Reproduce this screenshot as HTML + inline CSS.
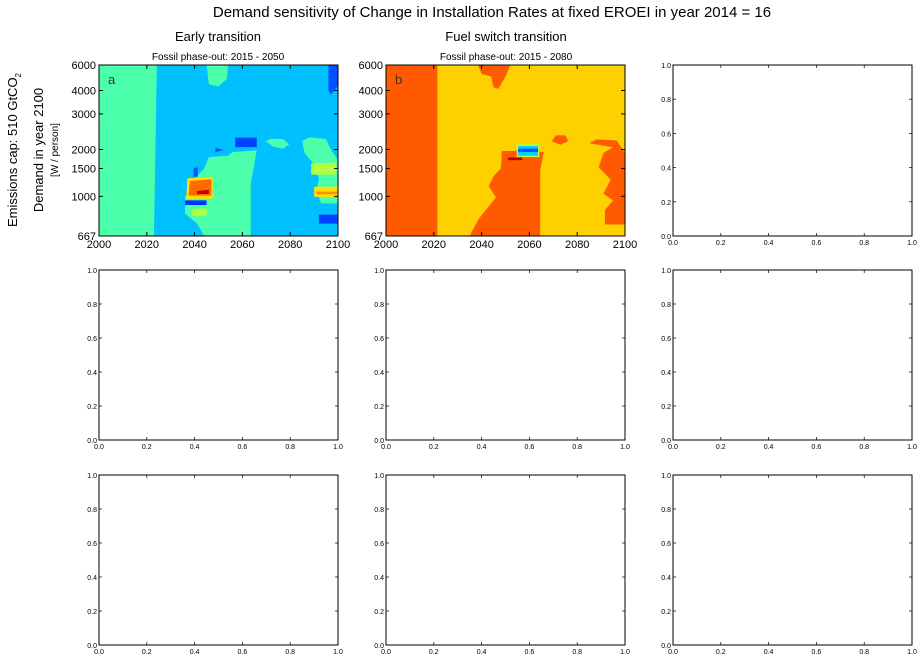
<!DOCTYPE html>
<html><head><meta charset="utf-8"><style>
body{margin:0;background:#fff;}
svg{display:block;font-family:"Liberation Sans",sans-serif;}
</style></head><body>
<svg id="fig" width="922" height="660" viewBox="0 0 922 660" xmlns="http://www.w3.org/2000/svg">
<text x="492" y="17" font-size="15" text-anchor="middle">Demand sensitivity of Change in Installation Rates at fixed EROEI in year 2014 = 16</text>
<text x="218" y="41" font-size="13" text-anchor="middle">Early transition</text>
<text x="506" y="41" font-size="13" text-anchor="middle">Fuel switch transition</text>
<text x="218" y="60" font-size="10" text-anchor="middle">Fossil phase-out: 2015 - 2050</text>
<text x="506" y="60" font-size="10" text-anchor="middle">Fossil phase-out: 2015 - 2080</text>
<text transform="translate(17,150) rotate(-90)" font-size="13" text-anchor="middle">Emissions cap: 510 GtCO<tspan font-size="8" dy="4">2</tspan></text>
<text transform="translate(43,150) rotate(-90)" font-size="13" text-anchor="middle">Demand in year 2100</text>
<text transform="translate(58,150) rotate(-90)" font-size="10" text-anchor="middle">[W / person]</text>
<g id="layer"></g>
</svg>
<script>
const yearTicks=[2000,2020,2040,2060,2080,2100];
const demandTicks=[667,1000,1500,2000,3000,4000,6000];
const unitTicks=[0,0.2,0.4,0.6,0.8,1.0];
// contour regions for panel a: [color, polygon of [year, demand]]
const regionsA=[
 ['#4cffaa',[[2000,667],[2000,6000],[2024.2,6000],[2023,667]]],
 ['#4cffaa',[[2045,6000],[2054,6000],[2053.5,4800],[2050,4280],[2046,4400]]],
 ['#0050ff',[[2096,6000],[2100,6000],[2100,4300],[2097,3800],[2096,4000]]],
 ['#4cffaa',[[2046,1780],[2054,1820],[2056,1920],[2066,1975],[2065,1610],[2063.5,1200],[2063.5,667],[2044,667],[2041,757],[2036,839],[2036,990],[2040,1290],[2044,1500]]],
 ['#ffe000',[[2036.5,975],[2037,1300],[2047.6,1320],[2047.6,975]]],
 ['#ff6a00',[[2037.5,1010],[2038,1250],[2047,1280],[2047,1010]]],
 ['#d00000',[[2041,1035],[2041,1080],[2046,1100],[2046,1035]]],
 ['#0030ff',[[2036,915],[2036,960],[2045,960],[2045,915]]],
 ['#b0ff40',[[2039,820],[2039,880],[2045,885],[2045,820]]],
 ['#0050ff',[[2039.6,1330],[2039.6,1500],[2041.3,1530],[2041.3,1330]]],
 ['#0050ff',[[2048.7,1920],[2048.7,2040],[2052.2,1980]]],
 ['#0040ff',[[2057,2054],[2057,2290],[2066,2290],[2066,2054]]],
 ['#4cffaa',[[2069.8,2200],[2072,2260],[2077,2250],[2079.6,2120],[2077,2020],[2073,2060]]],
 ['#4cffaa',[[2085,2200],[2088,2300],[2095,2250],[2097,2000],[2099,1800],[2100,1700],[2100,930],[2093,930],[2091,1080],[2092,1300],[2090,1600],[2086,1900]]],
 ['#b0ff40',[[2088.8,1370],[2088.8,1620],[2099.3,1640],[2099.3,1370]]],
 ['#ffe000',[[2090,995],[2090,1150],[2100,1150],[2100,995]]],
 ['#ff9000',[[2091,1030],[2091,1070],[2100,1070],[2100,1030]]],
 ['#0040ff',[[2092,757],[2092,830],[2100,830],[2100,757]]]
];
const regionsB=[
 ['#ff5a00',[[2000,667],[2000,6000],[2021.5,6000],[2021.5,667]]],
 ['#ff5a00',[[2038.5,6000],[2052,6000],[2050,5000],[2047,4100],[2045,4200],[2044,5000],[2040,5200]]],
 ['#ff5a00',[[2048.4,1950],[2055,1960],[2063,1950],[2066,1920],[2064.5,1460],[2064.5,667],[2035,667],[2036,700],[2039,800],[2046,990],[2043,1160],[2045,1340],[2048,1500],[2048.4,1800]]],
 ['#b0ff40',[[2054.7,1780],[2054.7,2120],[2064.2,2120],[2064.2,1780]]],
 ['#00d0ff',[[2055.3,1820],[2055.3,2080],[2063.6,2080],[2063.6,1820]]],
 ['#0050ff',[[2055.3,1930],[2055.3,2020],[2063.6,2020],[2063.6,1930]]],
 ['#c00000',[[2051,1700],[2051,1770],[2057,1770],[2057,1700]]],
 ['#ff5a00',[[2069.3,2200],[2071,2350],[2075,2350],[2076.3,2200],[2073,2110]]],
 ['#ff5a00',[[2085,2150],[2088,2240],[2096.5,2220],[2100,1900],[2100,750],[2091.6,750],[2091.6,870],[2095,960],[2091,1040],[2094,1270],[2089,1530],[2091,1900],[2095,2050],[2090,2100]]]
];
const NS='http://www.w3.org/2000/svg';
const layer=document.getElementById('layer');
function mk(tag,attrs,parent){const e=document.createElementNS(NS,tag);for(const k in attrs)e.setAttribute(k,attrs[k]);(parent||layer).appendChild(e);return e;}
const colsX=[[99,338],[386,625],[673,912]];
const rowsY=[[65,236],[270,440],[475,645]];
// axis layout: fractional height (from bottom) of each demand tick on the contour panels
const demandTickFrac=[0,0.232,0.395,0.506,0.714,0.851,1];
function panel(ci,ri,name){
 const [x0,x1]=colsX[ci],[y0,y1]=rowsY[ri];
 const g=mk('g',{});
 
 
 return {g,x0,x1,y0,y1};
}
function demandFrac(v){
 if(v<=demandTicks[0])return 0;
 for(let i=1;i<demandTicks.length;i++){
  if(v<=demandTicks[i]){const a=demandTicks[i-1],b=demandTicks[i];
   const t=Math.log(v/a)/Math.log(b/a);return demandTickFrac[i-1]+t*(demandTickFrac[i]-demandTickFrac[i-1]);}
 }
 return 1;
}
function drawContour(p,bg,regions,letter){
 const xs=v=>p.x0+(v-2000)/100*(p.x1-p.x0);
 const ys=v=>p.y1-demandFrac(v)*(p.y1-p.y0);
 const cid='clip'+letter;
 const cp=mk('clipPath',{id:cid},p.g);mk('rect',{x:p.x0,y:p.y0,width:p.x1-p.x0,height:p.y1-p.y0},cp);
 const bgR=mk('rect',{x:p.x0,y:p.y0,width:p.x1-p.x0,height:p.y1-p.y0,fill:bg},p.g);
 
 
 regions.forEach(r=>{
  const poly=mk('polygon',{points:r[1].map(q=>xs(q[0])+','+ys(q[1])).join(' '),fill:r[0],'clip-path':'url(#'+cid+')'},p.g);
  
  
 });
 mk('rect',{x:p.x0,y:p.y0,width:p.x1-p.x0,height:p.y1-p.y0,fill:'none',stroke:'#000','stroke-width':1},p.g);
 yearTicks.forEach(t=>{const x=xs(t);
  mk('line',{x1:x,x2:x,y1:p.y1,y2:p.y1-4,stroke:'#000'},p.g);mk('line',{x1:x,x2:x,y1:p.y0,y2:p.y0+4,stroke:'#000'},p.g);
  const tx=mk('text',{x:x,y:p.y1+12,'font-size':11,'text-anchor':'middle'},p.g);tx.textContent=t;
  
  });
 demandTicks.forEach(t=>{const y=ys(t);
  mk('line',{x1:p.x0,x2:p.x0+4,y1:y,y2:y,stroke:'#000'},p.g);mk('line',{x1:p.x1,x2:p.x1-4,y1:y,y2:y,stroke:'#000'},p.g);
  const tx=mk('text',{x:p.x0-3,y:y+4,'font-size':11,'text-anchor':'end'},p.g);tx.textContent=t;
  
  });
 const lt=mk('text',{x:p.x0+9,y:p.y0+19,'font-size':13,fill:'#333'},p.g);lt.textContent=letter;
 
 
}
function drawEmpty(p){
 const w=p.x1-p.x0,h=p.y1-p.y0;
 mk('rect',{x:p.x0,y:p.y0,width:w,height:h,fill:'#fff',stroke:'#000','stroke-width':1},p.g);
 unitTicks.forEach(t=>{const x=p.x0+t*w,y=p.y1-t*h;
  mk('line',{x1:x,x2:x,y1:p.y1,y2:p.y1-3,stroke:'#000','stroke-width':0.7},p.g);
  mk('line',{x1:x,x2:x,y1:p.y0,y2:p.y0+3,stroke:'#000','stroke-width':0.7},p.g);
  mk('line',{x1:p.x0,x2:p.x0+3,y1:y,y2:y,stroke:'#000','stroke-width':0.7},p.g);
  mk('line',{x1:p.x1,x2:p.x1-3,y1:y,y2:y,stroke:'#000','stroke-width':0.7},p.g);
  const a=mk('text',{x:x,y:p.y1+9,'font-size':7,'text-anchor':'middle'},p.g);a.textContent=t.toFixed(1);
  
  
  const b=mk('text',{x:p.x0-2,y:y+3,'font-size':7,'text-anchor':'end'},p.g);b.textContent=t.toFixed(1);
  
  
 });
}
drawContour(panel(0,0,'panel-a-early-transition'),'#00c0ff',regionsA,'a');
drawContour(panel(1,0,'panel-b-fuel-switch'),'#ffd000',regionsB,'b');
drawEmpty(panel(2,0,'panel-empty-r1c3'));
for(let r=1;r<3;r++)for(let c=0;c<3;c++)drawEmpty(panel(c,r,'panel-empty-r'+(r+1)+'c'+(c+1)));
</script>
</body></html>
